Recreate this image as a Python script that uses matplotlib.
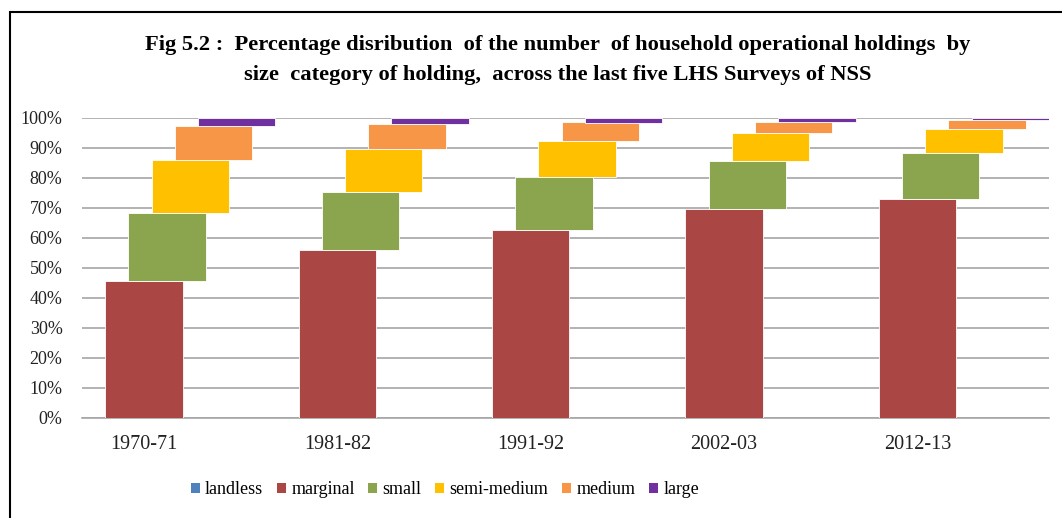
import matplotlib
matplotlib.use("Agg")
import matplotlib.pyplot as plt
from matplotlib.patches import Rectangle, Patch
import numpy as np

# surveys and share of holdings (%) per size category
surveys = ["1970-71", "1981-82", "1991-92", "2002-03", "2012-13"]
categories = ["landless", "marginal", "small", "semi-medium", "medium", "large"]
landless = [0.0, 0.0, 0.0, 0.0, 0.0]
marginal = [45.8, 56.0, 62.8, 69.6, 72.9]
small = [22.4, 19.3, 17.7, 16.2, 15.5]
semi_medium = [17.7, 14.2, 12.0, 9.1, 8.0]
medium = [11.3, 8.6, 6.0, 3.9, 2.9]
large = [2.8, 1.9, 1.5, 1.2, 0.7]
colors = ["#4F81BD", "#AA4643", "#8BA54E", "#FFC000", "#F79646", "#7030A0"]

title_lines = ["Fig 5.2 :  Percentage disribution  of the number  of household operational holdings  by",
               "size  category of holding,  across the last five LHS Surveys of NSS"]

plt.rcParams["font.family"] = ["Liberation Serif", "DejaVu Serif"]

fig = plt.figure(figsize=(10.62, 5.18), dpi=100)
ax = fig.add_axes([82 / 1062, 100 / 518, 967 / 1062, 300 / 518])

series = [landless, marginal, small, semi_medium, medium, large]
x = np.arange(len(surveys))
step = 0.12
width = 0.40
bottom = np.zeros(len(surveys))
for k, (vals, col) in enumerate(zip(series, colors)):
    vals = np.array(vals) / 100.0
    off = (k - 2.5) * step
    ax.bar(x + off, vals, width=width, bottom=bottom, color=col,
           edgecolor="white", linewidth=0.6, zorder=3)
    bottom = bottom + vals

ax.set_xlim(-0.5, len(surveys) - 0.5)
ax.set_ylim(0, 1.0)
ticks = np.arange(0, 1.01, 0.1)
ax.set_yticks(ticks)
ax.set_yticklabels([f"{int(round(v * 100))}%" for v in ticks], fontsize=13)
ax.set_xticks(x - 1.5 * step)
ax.set_xticklabels(surveys, fontsize=14.5)
ax.tick_params(length=0, colors="#222222")
ax.tick_params(axis="x", pad=12)
ax.tick_params(axis="y", pad=14)
ax.grid(axis="y", color="#A6A6A6", linewidth=1.2, zorder=0)
for s in ["top", "right", "left"]:
    ax.spines[s].set_visible(False)
ax.spines["bottom"].set_color("#A6A6A6")
ax.spines["bottom"].set_linewidth(1.2)

fig.text(558 / 1062, 1 - 45 / 518, title_lines[0], ha="center", va="center",
         fontsize=16.2, fontweight="bold")
fig.text(558 / 1062, 1 - 75 / 518, title_lines[1], ha="center", va="center",
         fontsize=16.2, fontweight="bold")

handles = [Patch(facecolor=c, edgecolor="none") for c in colors]
fig.legend(handles, categories, loc="center", bbox_to_anchor=(445 / 1062, 28 / 518),
           ncol=6, frameon=False, prop={"family": "Liberation Serif", "size": 13},
           handlelength=0.5, handleheight=0.5, handletextpad=0.3, columnspacing=0.75)

fig.add_artist(Rectangle((10 / 1062, -0.05), 1.2, 1 - 12 / 518 + 0.05,
                         transform=fig.transFigure, fill=False,
                         edgecolor="black", linewidth=1.5))

fig.savefig("out.png", dpi=100)
